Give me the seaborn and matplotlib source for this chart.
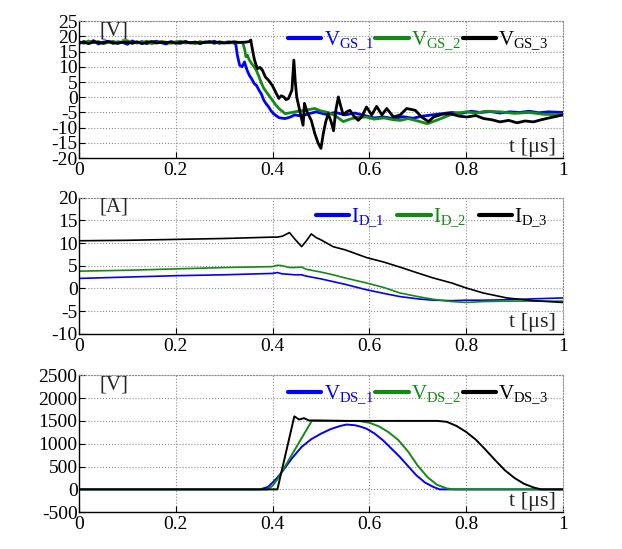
import numpy as np
import matplotlib
matplotlib.use('Agg')
import matplotlib.pyplot as plt
import seaborn as sns

# ---- data ----
t_flat = [0.00, 0.01, 0.02, 0.03, 0.04, 0.05, 0.06, 0.07, 0.08, 0.09, 0.10,
          0.11, 0.12, 0.13, 0.14, 0.15, 0.16, 0.17, 0.18, 0.19, 0.20, 0.21,
          0.22, 0.23, 0.24, 0.25, 0.26, 0.27, 0.28, 0.29, 0.30, 0.31, 0.32]

vgs1_flat = [17.6, 18.3, 17.9, 18.6, 17.5, 18.1, 18.4, 17.7, 18.2, 18.0, 17.4,
             18.5, 17.8, 18.3, 17.6, 18.1, 18.4, 17.9, 17.5, 18.2, 18.0, 17.7,
             18.3, 17.8, 18.1, 17.6, 18.2, 17.9, 18.4, 17.7, 18.0, 18.2, 17.8]
vgs2_flat = [18.2, 17.7, 18.5, 17.9, 18.3, 17.6, 18.0, 18.4, 17.8, 18.2, 18.6,
             17.7, 18.1, 17.9, 18.4, 17.6, 18.0, 18.3, 18.1, 17.7, 18.2, 18.4,
             17.8, 18.0, 17.6, 18.3, 17.9, 18.1, 17.7, 18.2, 18.0, 17.8, 18.1]
vgs3_flat = [17.9, 18.1, 17.6, 18.2, 18.0, 17.8, 18.3, 17.9, 17.7, 18.1, 18.0,
             17.8, 18.2, 17.6, 18.0, 18.3, 17.8, 18.1, 17.9, 18.2, 17.7, 18.0,
             18.2, 17.9, 18.1, 17.8, 18.0, 18.3, 17.9, 18.1, 17.8, 18.0, 18.2]

vgs1_t = [0.324, 0.327, 0.332, 0.337, 0.342, 0.347, 0.352, 0.357, 0.362, 0.367,
          0.372, 0.377, 0.382, 0.387, 0.392, 0.397, 0.402, 0.407, 0.413, 0.42,
          0.426, 0.435, 0.446, 0.46, 0.473, 0.49, 0.51, 0.53, 0.55, 0.57, 0.59,
          0.61, 0.63, 0.65, 0.67, 0.69, 0.71, 0.73, 0.75, 0.77, 0.79, 0.81,
          0.83, 0.85, 0.87, 0.89, 0.91, 0.93, 0.95, 0.97, 1.00]
vgs1_v = [17.5, 14.0, 10.5, 10.0, 11.6, 9.0, 7.2, 6.0, 4.5, 3.8,
          2.3, 1.0, -1.0, -2.2, -3.2, -4.5, -5.4, -6.0, -6.7, -6.9,
          -7.0, -6.6, -5.8, -6.2, -5.5, -4.8, -5.6, -5.0, -5.8, -5.2, -6.0,
          -6.8, -6.5, -7.0, -6.4, -6.9, -6.2, -5.8, -5.4, -5.0, -5.3, -4.6,
          -5.0, -4.7, -5.2, -4.8, -5.0, -4.6, -5.1, -4.8, -5.0]

vgs2_t = [0.338, 0.342, 0.345, 0.348, 0.352, 0.357, 0.362, 0.367, 0.372, 0.377,
          0.382, 0.387, 0.392, 0.397, 0.402, 0.407, 0.413, 0.42, 0.426, 0.44,
          0.453, 0.47, 0.487, 0.50, 0.515, 0.526, 0.536, 0.546, 0.56, 0.575,
          0.594, 0.61, 0.63, 0.65, 0.664, 0.68, 0.70, 0.72, 0.74, 0.767, 0.78,
          0.80, 0.82, 0.84, 0.87, 0.90, 0.93, 0.96, 1.00]
vgs2_v = [18.0, 16.0, 13.3, 13.8, 12.2, 11.0, 10.0, 8.6, 6.7, 4.6,
          2.9, 1.8, 0.7, -0.4, -1.5, -2.6, -3.7, -4.6, -5.4, -5.0,
          -4.6, -4.2, -3.7, -4.5, -5.0, -5.8, -6.8, -8.0, -7.2, -6.6,
          -6.5, -7.2, -6.8, -7.4, -7.6, -7.0, -7.8, -8.7, -7.5, -5.8, -5.2,
          -4.8, -5.2, -4.6, -4.8, -5.3, -5.0, -5.6, -5.8]

vgs3_t = [0.330, 0.345, 0.352, 0.355, 0.358, 0.362, 0.366, 0.369, 0.374, 0.379,
          0.385, 0.392, 0.399, 0.406, 0.413, 0.418, 0.423, 0.428, 0.433, 0.437,
          0.440, 0.444, 0.447, 0.450, 0.456, 0.463, 0.466, 0.470, 0.475, 0.480,
          0.487, 0.494, 0.500, 0.505, 0.510, 0.515, 0.521, 0.526, 0.531, 0.536,
          0.541, 0.546, 0.553, 0.560, 0.568, 0.577, 0.584, 0.594, 0.605, 0.615,
          0.626, 0.636, 0.650, 0.664, 0.677, 0.695, 0.708, 0.722, 0.733, 0.750,
          0.767, 0.785, 0.802, 0.820, 0.836, 0.853, 0.870, 0.888, 0.905, 0.922,
          0.939, 0.955, 0.966, 0.983, 1.000]
vgs3_v = [18.0, 18.1, 18.3, 18.8, 16.0, 12.7, 10.5, 9.4, 9.8, 8.9,
          6.7, 5.5, 4.0, 1.8, -0.4, 0.5, 0.1, -0.8, -0.4, 1.2,
          2.3, 12.2, 5.0, 0.0, -4.3, -9.2, -2.0, -4.3, -6.0, -7.6,
          -11.8, -15.0, -16.8, -11.8, -8.0, -5.4, -8.0, -11.0, -4.0, 0.1,
          -3.0, -5.8, -4.8, -4.3, -6.2, -7.6, -6.5, -3.2, -5.8, -3.0,
          -5.8, -3.7, -6.5, -5.8, -3.7, -4.3, -6.5, -8.0, -6.5, -5.6,
          -5.4, -6.2, -6.5, -6.0, -7.0, -7.4, -8.1, -7.6, -8.4, -7.8,
          -8.1, -7.4, -7.0, -6.4, -5.8]

id_t = [0.00, 0.10, 0.20, 0.30, 0.40, 0.41, 0.42, 0.435, 0.445, 0.46, 0.47,
        0.48, 0.49, 0.50, 0.525, 0.55, 0.594, 0.63, 0.663, 0.70, 0.732,
        0.77, 0.80, 0.835, 0.884, 0.938, 1.00]
id1_v = [2.2, 2.5, 2.8, 3.0, 3.3, 3.5, 3.2, 3.1, 3.0, 3.0, 2.7,
         2.5, 2.3, 2.1, 1.5, 0.9, -0.3, -1.1, -1.8, -2.3, -2.6,
         -2.7, -2.6, -2.6, -2.5, -2.3, -2.1]
id2_v = [3.8, 4.0, 4.3, 4.6, 4.8, 5.1, 5.0, 4.6, 4.6, 4.7, 4.2,
         4.0, 3.8, 3.6, 3.0, 2.3, 1.2, 0.2, -1.0, -1.8, -2.4,
         -2.9, -3.1, -2.9, -2.8, -2.8, -2.8]
id3_v = [10.5, 10.6, 10.8, 11.0, 11.3, 11.3, 11.5, 12.3, 11.0, 9.2, 10.5,
         12.0, 11.2, 10.7, 9.2, 8.5, 6.8, 5.8, 4.7, 3.4, 2.3,
         1.2, 0.1, -1.0, -2.1, -2.7, -3.1]

vds1_t = [0.00, 0.375, 0.38, 0.39, 0.40, 0.41, 0.42, 0.44, 0.46, 0.48, 0.50,
          0.52, 0.54, 0.553, 0.57, 0.58, 0.594, 0.61, 0.628, 0.645, 0.663,
          0.68, 0.697, 0.715, 0.732, 0.745, 1.00]
vds1_v = [0, 0, 20, 50, 150, 260, 390, 680, 930, 1100, 1220,
          1320, 1390, 1420, 1405, 1380, 1330, 1230, 1077, 900, 711,
          510, 310, 150, 55, 0, 0]
vds2_t = [0.00, 0.39, 0.40, 0.41, 0.42, 0.481, 0.55, 0.58, 0.60, 0.62,
          0.64, 0.66, 0.68, 0.70, 0.72, 0.74, 0.76, 0.775, 1.00]
vds2_v = [0, 0, 80, 220, 400, 1500, 1500, 1495, 1460, 1380,
          1250, 1080, 830, 520, 270, 100, 20, 0, 0]
vds3_t = [0.00, 0.41, 0.445, 0.455, 0.465, 0.475, 0.49, 0.55, 0.65, 0.74,
          0.76, 0.78, 0.80, 0.82, 0.84, 0.86, 0.88, 0.90, 0.92, 0.94,
          0.955, 1.00]
vds3_v = [0, 0, 1600, 1530, 1560, 1510, 1510, 1500, 1500, 1500,
          1480, 1390, 1259, 1090, 870, 640, 420, 250, 120, 40,
          0, 0]

colors = ['#0000ff', '#138a13', '#000000']
x_ticks = [0, 0.2, 0.4, 0.6, 0.8, 1]
x_labels = ['0', '0.2', '0.4', '0.6', '0.8', '1']

# ---- style ----
sns.set_style('white')
plt.rcParams['font.family'] = ['Liberation Serif', 'DejaVu Serif']
plt.rcParams['mathtext.fontset'] = 'custom'
plt.rcParams['mathtext.rm'] = 'Liberation Serif'
plt.rcParams['mathtext.it'] = 'Liberation Serif:italic'

fig = plt.figure(figsize=(6.22, 5.49), dpi=100)
left, width = 0.127, 0.778
ax1 = fig.add_axes([left, 0.712, width, 0.2495])
ax2 = fig.add_axes([left, 0.392, width, 0.248])
ax3 = fig.add_axes([left, 0.067, width, 0.2495])

panels = [
    (ax1, [(t_flat + vgs1_t, vgs1_flat + vgs1_v), (t_flat + vgs2_t, vgs2_flat + vgs2_v),
           (t_flat + vgs3_t, vgs3_flat + vgs3_v)],
     ['V$_{\\mathrm{GS\\_1}}$', 'V$_{\\mathrm{GS\\_2}}$', 'V$_{\\mathrm{GS\\_3}}$'],
     '[V]', (-20, 25), np.arange(-20, 26, 5), 2.0, 0.1),
    (ax2, [(id_t, id1_v), (id_t, id2_v), (id_t, id3_v)],
     ['I$_{\\mathrm{D\\_1}}$', 'I$_{\\mathrm{D\\_2}}$', 'I$_{\\mathrm{D\\_3}}$'],
     '[A]', (-10, 20), np.arange(-10, 21, 5), 1.2, 0.6),
    (ax3, [(vds1_t, vds1_v), (vds2_t, vds2_v), (vds3_t, vds3_v)],
     ['V$_{\\mathrm{DS\\_1}}$', 'V$_{\\mathrm{DS\\_2}}$', 'V$_{\\mathrm{DS\\_3}}$'],
     '[V]', (-500, 2500), np.arange(-500, 2501, 500), 1.4, 0.1),
]

for ax, series, labels, unit, ylim, yticks, lw, colsp in panels:
    for (tt, vv), c, lab in zip(series, colors, labels):
        sns.lineplot(x=tt, y=vv, ax=ax, color=c, linewidth=lw, label=lab,
                     estimator=None, sort=False)
    ax.set_xlim(0, 1)
    ax.set_ylim(*ylim)
    ax.set_xticks(x_ticks)
    ax.set_xticklabels(x_labels)
    ax.set_yticks(yticks)
    ax.set_yticklabels([str(v) for v in yticks])
    ax.tick_params(axis='both', direction='in', length=4, labelsize=14,
                   colors='black', left=True, bottom=True)
    ax.tick_params(axis='y', pad=1)
    ax.tick_params(axis='x', pad=3)
    ax.grid(True, linestyle=':', color='#8c8c8c', linewidth=0.8)
    for s in ['top', 'right']:
        ax.spines[s].set_linestyle(':')
        ax.spines[s].set_color('#8c8c8c')
        ax.spines[s].set_linewidth(0.8)
    for s in ['left', 'bottom']:
        ax.spines[s].set_color('black')
        ax.spines[s].set_linewidth(1.0)
    ax.text(0.043, 0.93, unit, transform=ax.transAxes, fontsize=15,
            ha='left', va='center')
    ax.text(0.985, 0.08, 't [\u03bcs]', transform=ax.transAxes, fontsize=16,
            ha='right', va='center')
    leg = ax.legend(loc='upper right', bbox_to_anchor=(0.995, 1.03), ncol=3,
                    frameon=False, fontsize=15, handlelength=1.6,
                    handletextpad=0.1, columnspacing=colsp, borderpad=0.1)
    for txt, line, c in zip(leg.get_texts(), leg.get_lines(), colors):
        txt.set_color(c)
        line.set_linewidth(3)
    ax.set_xlabel('')
    ax.set_ylabel('')

fig.savefig('out.png', dpi=100)
